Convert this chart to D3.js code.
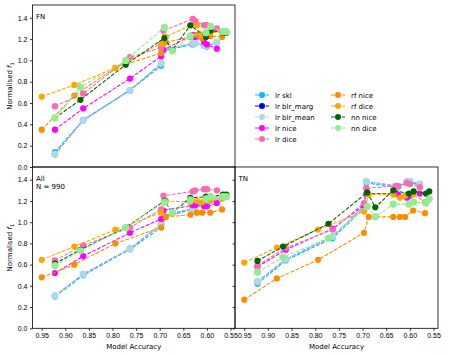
<!DOCTYPE html>
<html>
<head>
<meta charset="utf-8">
<script src="https://cdn.jsdelivr.net/npm/d3@7"></script>
<style>
  body { margin: 0; background: #fff; }
  svg { display: block; font-family: "DejaVu Sans", sans-serif; }
  .axis text { font-size: 7px; fill: #000; }
  .axis line { stroke: #000; stroke-width: 0.8; }
  .axis path { display: none; }
</style>
</head>
<body>
<svg width="449" height="356"></svg>
<script>
// model accuracies (x) per model family
const lrAcc = [0.922, 0.862, 0.763, 0.697, 0.692, 0.630, 0.625, 0.606, 0.600, 0.579];
const rfAcc = [0.950, 0.881, 0.794, 0.697, 0.687, 0.635, 0.621, 0.610, 0.593, 0.568];
const nnAcc = [0.922, 0.868, 0.772, 0.690, 0.673, 0.635, 0.602, 0.592, 0.566, 0.559];

const seriesNames = ["lr skl", "lr blr_marg", "lr blr_mean", "lr nice", "lr dice",
                     "rf nice", "rf dice", "nn nice", "nn dice"];
const seriesModel = ["lr", "lr", "lr", "lr", "lr", "rf", "rf", "nn", "nn"];

// normalised f1, one row per series (same order as seriesNames)
const fnValues = [
    [0.14, 0.44, 0.72, 0.95, 1.09, 1.15, 1.16, 1.14, 1.13, 1.17],
    [0.12, 0.44, 0.72, 0.97, 1.10, 1.16, 1.16, 1.14, 1.14, 1.17],
    [0.12, 0.44, 0.72, 0.97, 1.10, 1.16, 1.16, 1.14, 1.14, 1.17],
    [0.35, 0.55, 0.83, 1.04, 1.10, 1.24, 1.22, 1.17, 1.15, 1.11],
    [0.57, 0.69, 1.03, 1.12, 1.28, 1.39, 1.37, 1.33, 1.33, 1.30],
    [0.35, 0.67, 0.93, 1.07, 1.17, 1.22, 1.24, 1.21, 1.23, 1.22],
    [0.66, 0.77, 0.93, 1.16, 1.22, 1.33, 1.33, 1.24, 1.26, 1.27],
    [0.46, 0.63, 0.96, 1.21, 1.10, 1.33, 1.22, 1.28, 1.26, 1.26],
    [0.46, 0.75, 1.00, 1.31, 1.09, 1.23, 1.26, 1.32, 1.27, 1.27]
];
const allValues = [
    [0.30, 0.50, 0.745, 0.95, 1.05, 1.12, 1.14, 1.19, 1.19, 1.20],
    [0.305, 0.51, 0.75, 0.98, 1.06, 1.13, 1.15, 1.19, 1.20, 1.21],
    [0.305, 0.51, 0.75, 0.98, 1.06, 1.13, 1.15, 1.19, 1.20, 1.21],
    [0.52, 0.68, 0.90, 1.03, 1.11, 1.16, 1.16, 1.15, 1.15, 1.18],
    [0.64, 0.78, 0.95, 1.12, 1.25, 1.29, 1.30, 1.31, 1.31, 1.30],
    [0.48, 0.60, 0.80, 0.95, 1.05, 1.07, 1.09, 1.09, 1.09, 1.12],
    [0.645, 0.77, 0.93, 1.09, 1.20, 1.19, 1.20, 1.19, 1.20, 1.22],
    [0.61, 0.74, 0.95, 1.20, 1.09, 1.23, 1.24, 1.24, 1.26, 1.26],
    [0.59, 0.73, 0.95, 1.19, 1.09, 1.21, 1.22, 1.24, 1.24, 1.24]
];
const tnValues = [
    [0.42, 0.64, 0.85, 1.13, 1.37, 1.33, 1.33, 1.37, 1.37, 1.35],
    [0.44, 0.65, 0.865, 1.15, 1.385, 1.34, 1.34, 1.385, 1.385, 1.36],
    [0.44, 0.65, 0.865, 1.15, 1.385, 1.34, 1.34, 1.385, 1.385, 1.36],
    [0.58, 0.74, 0.94, 1.16, 1.27, 1.27, 1.26, 1.23, 1.25, 1.27],
    [0.59, 0.76, 0.93, 1.18, 1.32, 1.34, 1.34, 1.37, 1.36, 1.33],
    [0.27, 0.47, 0.645, 0.90, 1.05, 1.05, 1.05, 1.05, 1.11, 1.085],
    [0.62, 0.76, 0.93, 1.10, 1.26, 1.26, 1.23, 1.25, 1.26, 1.19],
    [0.635, 0.77, 0.985, 1.28, 1.14, 1.30, 1.27, 1.29, 1.27, 1.29],
    [0.53, 0.67, 0.85, 1.15, 1.05, 1.17, 1.17, 1.19, 1.18, 1.22]
];

const xTicks = [0.95, 0.90, 0.85, 0.80, 0.75, 0.70, 0.65, 0.60, 0.55];
const yTicks = [0, 0.2, 0.4, 0.6, 0.8, 1.0, 1.2, 1.4];

const colors = ["deepskyblue", "blue", "lightblue", "magenta", "hotpink",
                "darkorange", "orange", "darkgreen", "lightgreen"];
const radius = [3.1, 3.1, 3.6, 3.1, 3.2, 3.1, 3.1, 3.1, 3.6];

const accFor = {lr: lrAcc, rf: rfAcc, nn: nnAcc};

const svg = d3.select("svg");

const panels = [
    {values: fnValues, x0: 32.5, x1: 235, y0: 5, y1: 167, labels: ["FN"], yLabels: true, xLabels: false},
    {values: allValues, x0: 32.5, x1: 235, y0: 167, y1: 328.3, labels: ["All", "N = 990"], yLabels: true, xLabels: true},
    {values: tnValues, x0: 235, x1: 438, y0: 167, y1: 328.3, labels: ["TN"], yLabels: false, xLabels: true}
];

panels.forEach(p => {
    const x = d3.scaleLinear().domain([0.9695, 0.5405]).range([p.x0, p.x1]);
    const y = d3.scaleLinear().domain([0, 1.52]).range([p.y1, p.y0]);
    const g = svg.append("g");

    const line = d3.line().x(d => x(d[0])).y(d => y(d[1]));

    seriesNames.forEach((name, i) => {
        const acc = accFor[seriesModel[i]];
        const pts = acc.map((a, j) => [a, p.values[i][j]]);
        g.append("path")
            .attr("d", line(pts))
            .attr("fill", "none")
            .attr("stroke", colors[i])
            .attr("stroke-width", 1.05)
            .attr("stroke-dasharray", "3.8,1.6");
        g.selectAll(null)
            .data(pts).enter()
            .append("circle")
            .attr("cx", d => x(d[0]))
            .attr("cy", d => y(d[1]))
            .attr("r", radius[i])
            .attr("fill", colors[i]);
    });

    const yAxis = d3.axisLeft(y).tickValues(yTicks).tickSize(2.5).tickPadding(2.5)
        .tickFormat(p.yLabels ? d3.format(".1f") : () => "");
    svg.append("g").attr("class", "axis")
        .attr("transform", "translate(" + p.x0 + ",0)")
        .call(yAxis);

    if (p.xLabels) {
        const xAxis = d3.axisBottom(x).tickValues(xTicks).tickSize(2.5).tickPadding(2.5)
            .tickFormat(d3.format(".2f"));
        svg.append("g").attr("class", "axis")
            .attr("transform", "translate(0," + p.y1 + ")")
            .call(xAxis);
        svg.append("text")
            .attr("x", (p.x0 + p.x1) / 2)
            .attr("y", 349)
            .attr("text-anchor", "middle")
            .style("font-size", "7px")
            .text("Model Accuracy");
    }

    svg.append("rect")
        .attr("x", p.x0).attr("y", p.y0)
        .attr("width", p.x1 - p.x0).attr("height", p.y1 - p.y0)
        .attr("fill", "none").attr("stroke", "#000").attr("stroke-width", 0.8);

    p.labels.forEach((t, k) => {
        svg.append("text")
            .attr("x", p.x0 + 3.5)
            .attr("y", p.y0 + 13.5 + k * 8)
            .style("font-size", "7px")
            .text(t);
    });

    if (p.yLabels) {
        const lbl = svg.append("text")
            .attr("transform", "translate(12," + (p.y0 + p.y1) / 2 + ") rotate(-90)")
            .attr("text-anchor", "middle")
            .style("font-size", "7px");
        lbl.append("tspan").text("Normalised ");
        lbl.append("tspan").style("font-style", "italic").text("f");
        lbl.append("tspan").attr("dy", 1.5).style("font-size", "5px").text("1");
    }
});

// legend in the empty top-right area
const legend = svg.append("g");
seriesNames.forEach((name, i) => {
    const col = i < 5 ? 0 : 1;
    const row = i < 5 ? i : i - 5;
    const lx = col === 0 ? 255 : 331;
    const ly = 95 + row * 11;
    legend.append("line")
        .attr("x1", lx).attr("x2", lx + 14)
        .attr("y1", ly).attr("y2", ly)
        .attr("stroke", colors[i]).attr("stroke-width", 1.05)
        .attr("stroke-dasharray", "3.8,1.6");
    legend.append("circle")
        .attr("cx", lx + 7).attr("cy", ly).attr("r", 3)
        .attr("fill", colors[i]);
    legend.append("text")
        .attr("x", lx + 20).attr("y", ly + 2.5)
        .style("font-size", "7px")
        .text(name);
});
</script>
</body>
</html>
